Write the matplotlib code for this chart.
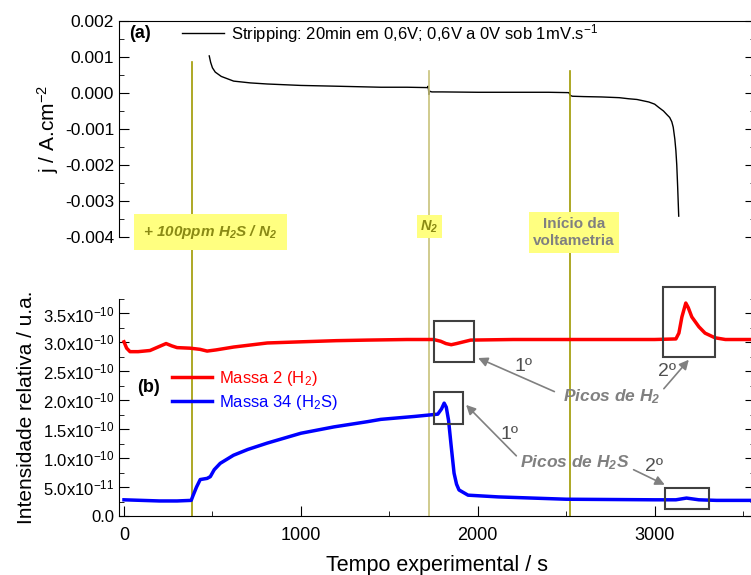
import matplotlib
matplotlib.use("Agg")
import matplotlib.pyplot as plt
from matplotlib.ticker import MultipleLocator, FixedLocator, FixedFormatter
from matplotlib.patches import Rectangle

plt.rcParams['font.family'] = ['Liberation Sans', 'DejaVu Sans']
plt.rcParams['mathtext.default'] = 'regular'
plt.rcParams['axes.unicode_minus'] = False

# --- data ---
# (a) current density during stripping
t_j = [482, 490, 500, 516, 550, 620, 715, 810, 1000, 1187, 1452, 1600, 1716, 1720, 1724, 1728,
       1740, 1800, 2000, 2200, 2400, 2515, 2524, 2535, 2600, 2700, 2800, 2853, 2900, 2967, 3000,
       3023, 3050, 3069, 3085, 3097, 3105, 3114, 3120, 3125, 3130, 3136]
j = [0.00103, 0.00085, 0.00070, 0.00058, 0.00046, 0.00033, 0.00028, 0.00025, 0.00021, 0.00019,
     0.00016, 0.00016, 0.00015, 0.00019, -0.00004, 0.00005, 0.00003, 0.00003, 0.00002, 0.00002,
     0.00002, 0.00001, -0.00007, -0.00009, -0.00010, -0.00011, -0.00013, -0.00016, -0.00018,
     -0.00025, -0.00031, -0.00040, -0.00050, -0.00060, -0.00068, -0.00080, -0.00095, -0.00128,
     -0.0016, -0.0020, -0.0026, -0.00342]

# (b) mass spectrometry signals
t_h2 = [0, 15, 34, 80, 147, 200, 238, 270, 300, 374, 430, 470, 520, 620, 810, 1000, 1200, 1376,
        1600, 1750, 1790, 1820, 1850, 1880, 1920, 1960, 2200, 2600, 3000, 3120, 3137, 3154, 3176,
        3190, 3210, 3250, 3285, 3341, 3400, 3550]
h2 = [3.01, 2.90, 2.84, 2.84, 2.86, 2.93, 2.98, 2.94, 2.91, 2.90, 2.88, 2.85, 2.87, 2.92, 2.99,
      3.01, 3.03, 3.04, 3.05, 3.05, 3.02, 2.98, 2.96, 2.98, 3.01, 3.04, 3.05, 3.05, 3.05, 3.06,
      3.16, 3.44, 3.68, 3.60, 3.44, 3.27, 3.16, 3.08, 3.05, 3.05]
h2 = [v * 1e-10 for v in h2]

t_h2s = [0, 100, 200, 300, 380, 390, 410, 431, 470, 488, 510, 544, 619, 700, 810, 1000, 1187,
         1376, 1452, 1641, 1774, 1795, 1810, 1822, 1835, 1850, 1866, 1880, 1894, 1945, 2116, 2500,
         3000, 3120, 3180, 3250, 3350, 3550]
h2s = [0.28, 0.27, 0.26, 0.26, 0.27, 0.35, 0.50, 0.63, 0.65, 0.68, 0.80, 0.91, 1.05, 1.15, 1.26,
       1.43, 1.54, 1.63, 1.67, 1.72, 1.76, 1.85, 1.95, 1.88, 1.65, 1.20, 0.74, 0.55, 0.45, 0.36,
       0.33, 0.29, 0.28, 0.28, 0.31, 0.28, 0.27, 0.27]
h2s = [v * 1e-10 for v in h2s]

# event markers (s)
events = [386, 1724, 2524]
event_tops = [2.09, 2.05, 2.05]
event_colors = ['#a09a00', '#c8c27a', '#a09a00']

y_ticks_b = [0.0, 0.5e-10, 1.0e-10, 1.5e-10, 2.0e-10, 2.5e-10, 3.0e-10, 3.5e-10]
y_labels_b = ['0.0', r'5.0x10$^{-11}$', r'1.0x10$^{-10}$', r'1.5x10$^{-10}$', r'2.0x10$^{-10}$',
              r'2.5x10$^{-10}$', r'3.0x10$^{-10}$', r'3.5x10$^{-10}$']

fig = plt.figure(figsize=(7.51, 5.75), dpi=100)
ax1 = fig.add_axes([0.1585, 0.5878, 0.8470, 0.3757])
ax2 = fig.add_axes([0.1585, 0.1026, 0.8470, 0.3774])

xlim = (-28, 3568)

# ---- top panel ----
ax1.plot(t_j, j, color='black', lw=1.0,
         label=r'Stripping: 20min em 0,6V; 0,6V a 0V sob 1mV.s$^{-1}$')
ax1.set_xlim(*xlim)
ax1.set_ylim(-0.004, 0.002)
ax1.spines['bottom'].set_visible(False)
ax1.set_xticks([])
ax1.yaxis.set_major_locator(MultipleLocator(0.001))
ax1.yaxis.set_minor_locator(MultipleLocator(0.0005))
ax1.yaxis.set_major_formatter(plt.FormatStrFormatter('%.3f'))
ax1.tick_params(axis='y', which='both', direction='in', left=True, right=True, labelsize=12.5)
ax1.tick_params(axis='y', which='major', length=7)
ax1.tick_params(axis='y', which='minor', length=3.5)
ax1.set_ylabel(r'j / A.cm$^{-2}$', fontsize=15, labelpad=3)
ax1.text(0.033, 0.944, '(a)', transform=ax1.transAxes, fontsize=13, fontweight='bold',
         ha='center', va='center')
ax1.legend(loc='center left', bbox_to_anchor=(0.0994, 0.944), frameon=False, fontsize=12,
           borderpad=0, borderaxespad=0, handlelength=2.5, handletextpad=0.4)

# ---- bottom panel ----
ax2.plot(t_h2, h2, color='#ff0000', lw=2.5, label=r'Massa 2 (H$_2$)', zorder=3)
ax2.plot(t_h2s, h2s, color='#0000ff', lw=2.5, label=r'Massa 34 (H$_2$S)', zorder=3)
ax2.set_xlim(*xlim)
ax2.set_ylim(0, 3.75e-10)
ax2.spines['top'].set_visible(False)
ax2.xaxis.set_major_locator(MultipleLocator(1000))
ax2.xaxis.set_minor_locator(MultipleLocator(500))
ax2.yaxis.set_major_locator(FixedLocator(y_ticks_b))
ax2.yaxis.set_major_formatter(FixedFormatter(y_labels_b))
ax2.yaxis.set_minor_locator(MultipleLocator(0.25e-10))
ax2.tick_params(which='both', direction='in')
ax2.tick_params(axis='y', labelsize=12)
ax2.tick_params(axis='x', labelsize=13, pad=8)
ax2.tick_params(axis='y', which='both', left=True, right=True)
ax2.tick_params(which='major', length=7)
ax2.tick_params(which='minor', length=3.5)
ax2.set_xlabel('Tempo experimental / s', fontsize=15.5, labelpad=8)
ax2.set_ylabel('Intensidade relativa / u.a.', fontsize=15, labelpad=5)
ax2.text(0.047, 0.594, '(b)', transform=ax2.transAxes, fontsize=13, fontweight='bold',
         ha='center', va='center')
leg = ax2.legend(loc='center left', bbox_to_anchor=(0.0836, 0.58), frameon=False, fontsize=12,
                 borderpad=0, borderaxespad=0, handlelength=2.4, handletextpad=0.4,
                 labelspacing=0.3)
for txt, col in zip(leg.get_texts(), ['#ff0000', '#0000ff']):
    txt.set_color(col)

# event lines spanning both panels
for x, top, c in zip(events, event_tops, event_colors):
    ax2.axvline(x, ymin=0, ymax=top, color=c, lw=1.2, clip_on=False, zorder=1)

xt = ax2.get_xaxis_transform()
ax2.text(488, 1.309, r'+ 100ppm H$_2$S / N$_2$', transform=xt, ha='center', va='center',
         fontsize=11, fontweight='bold', style='italic', color='#8a8a14', zorder=5,
         bbox=dict(boxstyle='square,pad=0.6', fc='#ffff80', ec='none'))
ax2.text(1727, 1.334, r'N$_2$', transform=xt, ha='center', va='center',
         fontsize=10.5, fontweight='bold', style='italic', color='#8a8a14', zorder=5,
         bbox=dict(boxstyle='square,pad=0.25', fc='#ffff80', ec='none'))
ax2.text(2544, 1.306, 'Início da\nvoltametria', transform=xt, ha='center', va='center',
         fontsize=11, fontweight='bold', color='#808080', zorder=5, linespacing=1.3,
         bbox=dict(boxstyle='square,pad=0.3', fc='#ffff80', ec='none'))

# highlight boxes around peaks
boxes = [(1753, 2.66e-10, 227, 0.71e-10), (3046, 2.75e-10, 295, 1.21e-10),
         (1753, 1.59e-10, 164, 0.56e-10), (3057, 0.12e-10, 250, 0.36e-10)]
for bx, by, bw, bh in boxes:
    ax2.add_patch(Rectangle((bx, by), bw, bh, fill=False, ec='#404040', lw=1.5,
                            clip_on=False, zorder=4))

gray = '#808080'
ax2.text(2757, 2.06e-10, r'Picos de H$_2$', ha='center', va='center', fontsize=12.5,
         fontweight='bold', style='italic', color=gray)
ax2.text(2547, 0.93e-10, r'Picos de H$_2$S', ha='center', va='center', fontsize=12.5,
         fontweight='bold', style='italic', color=gray)
arrow = dict(arrowstyle='-|>', color=gray, lw=1.2, mutation_scale=14, shrinkA=0, shrinkB=0)
ax2.annotate('', xy=(2002, 2.73e-10), xytext=(2433, 2.15e-10), arrowprops=arrow)
ax2.annotate('', xy=(3193, 2.70e-10), xytext=(3052, 2.2e-10), arrowprops=arrow)
ax2.annotate('', xy=(1934, 1.92e-10), xytext=(2218, 1.04e-10), arrowprops=arrow)
ax2.annotate('', xy=(3057, 0.54e-10), xytext=(2881, 0.80e-10), arrowprops=arrow)
ax2.text(2258, 2.58e-10, '1º', ha='center', va='center', fontsize=14, color='#505050')
ax2.text(3069, 2.49e-10, '2º', ha='center', va='center', fontsize=14, color='#505050')
ax2.text(2178, 1.40e-10, '1º', ha='center', va='center', fontsize=14, color='#505050')
ax2.text(2995, 0.85e-10, '2º', ha='center', va='center', fontsize=14, color='#505050')

fig.savefig('out.png', dpi=100)
